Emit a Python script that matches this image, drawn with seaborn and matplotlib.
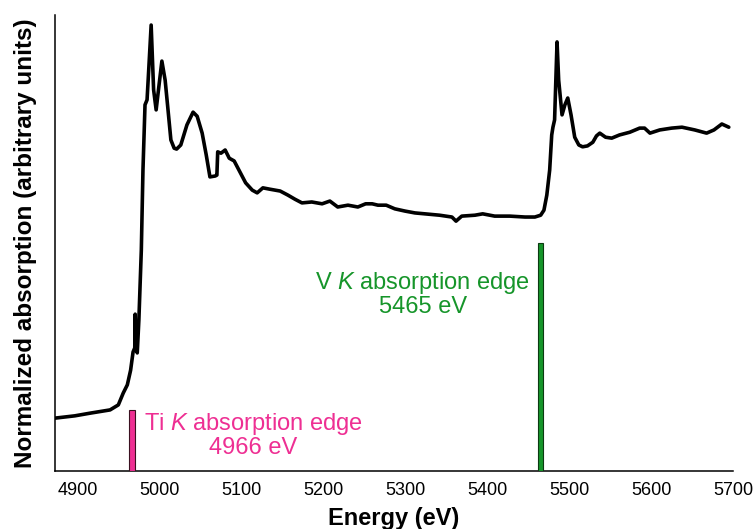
import matplotlib
matplotlib.use("Agg")
import matplotlib.pyplot as plt
import seaborn as sns
import pandas as pd

# spettro di assorbimento
energy = [4872, 4896.1, 4915.2, 4939.2, 4949.3, 4955.3, 4960.3, 4964.3, 4967.3, 4969.4, 4969.9, 4970.4,
          4972.4, 4974.4, 4977.4, 4979.4, 4981.9, 4984.4, 4986.4, 4989.4, 4992.4, 4995.5, 4999.0, 5002.5,
          5006.5, 5010.0, 5013.5, 5017.5, 5020.5, 5025.6, 5033.1, 5040.6, 5045.6, 5051.7, 5056.7, 5061.2,
          5067.7, 5069.7, 5070.7, 5074.7, 5079.8, 5084.8, 5090.8, 5097.8, 5104.8, 5112.9, 5118.9, 5125.9,
          5134.5, 5147.0, 5156.5, 5165.1, 5173.6, 5185.6, 5198.2, 5207.7, 5217.3, 5229.8, 5241.9,
          5251.4, 5259.4, 5266.4, 5276.5, 5287.0, 5299.6, 5311.6, 5323.7, 5341.7, 5356.8, 5361.8, 5368.8,
          5384.9, 5394.4, 5409.0, 5427.5, 5446.1, 5458.1, 5465.2, 5469.2, 5472.7, 5476.2, 5478.7,
          5480.2, 5482.2, 5485.2, 5487.2, 5491.3, 5494.8, 5498.3, 5502.3, 5506.8, 5511.8, 5516.4, 5522.4,
          5528.9, 5533.4, 5537.4, 5544.5, 5552.0, 5561.5, 5574.1, 5586.1, 5592.1, 5598.7, 5610.7,
          5625.2, 5637.8, 5653.4, 5667.9, 5676.9, 5686.5, 5695.0]
absorption = [0.116, 0.121, 0.127, 0.134, 0.145, 0.171, 0.189, 0.221, 0.261, 0.270, 0.344, 0.276,
              0.259, 0.331, 0.485, 0.660, 0.803, 0.814, 0.879, 0.978, 0.836, 0.792, 0.846, 0.899,
              0.857, 0.792, 0.726, 0.708, 0.706, 0.715, 0.759, 0.787, 0.778, 0.741, 0.693, 0.645,
              0.647, 0.649, 0.700, 0.697, 0.704, 0.686, 0.680, 0.656, 0.632, 0.616, 0.610, 0.621,
              0.618, 0.614, 0.605, 0.596, 0.588, 0.590, 0.586, 0.592, 0.579, 0.583, 0.579,
              0.586, 0.586, 0.583, 0.583, 0.575, 0.570, 0.566, 0.564, 0.561, 0.557, 0.548, 0.559,
              0.561, 0.564, 0.559, 0.559, 0.557, 0.557, 0.561, 0.572, 0.605, 0.660, 0.737,
              0.754, 0.770, 0.941, 0.857, 0.781, 0.803, 0.818, 0.781, 0.732, 0.715, 0.711, 0.713,
              0.721, 0.735, 0.741, 0.732, 0.730, 0.737, 0.743, 0.752, 0.752, 0.741, 0.748,
              0.752, 0.754, 0.748, 0.741, 0.748, 0.761, 0.754]

# soglie di assorbimento K
edge_energy = [4966, 5465]
edge_height = [0.134, 0.50]
edge_color = ["#ee2f93", "#16952a"]
edge_edgecolor = ["#3a1020", "#0c3a12"]
edge_label = [r"Ti $\mathit{K}$ absorption edge" + "\n4966 eV",
              r"V $\mathit{K}$ absorption edge" + "\n5465 eV"]

xticks = [4900, 5000, 5100, 5200, 5300, 5400, 5500, 5600, 5700]

sns.set_style("white")
plt.rcParams['font.family'] = ['Liberation Sans', 'DejaVu Sans']
plt.rcParams['mathtext.fontset'] = 'custom'
plt.rcParams['mathtext.it'] = 'Liberation Sans:italic'
plt.rcParams['mathtext.rm'] = 'Liberation Sans'

fig = plt.figure(figsize=(7.54, 5.29), dpi=100)
ax = fig.add_axes([0.073, 0.1096, 0.899, 0.862])

df = pd.DataFrame({"Energy": energy, "Absorption": absorption})
sns.lineplot(data=df, x="Energy", y="Absorption", ax=ax, color="black", linewidth=2.6)

ax.bar(edge_energy, edge_height, width=7, color=edge_color,
       edgecolor=edge_edgecolor, linewidth=0.8, align="center", zorder=3)

# etichette delle soglie
ax.text(5114, 0.079, edge_label[0], color=edge_color[0], fontsize=17,
        ha="center", va="center", linespacing=1.0)
ax.text(5321, 0.388, edge_label[1], color=edge_color[1], fontsize=17,
        ha="center", va="center", linespacing=1.0)

ax.set_xlim(4872, 5700)
ax.set_ylim(0, 1)
ax.set_xticks(xticks)
ax.set_yticks([])
ax.tick_params(axis="x", direction="in", length=6, width=1, labelsize=13, pad=8,
               colors="black")
for s in ["top", "right"]:
    ax.spines[s].set_visible(False)
for s in ["left", "bottom"]:
    ax.spines[s].set_color("black")
    ax.spines[s].set_linewidth(1.1)

ax.set_xlabel("Energy (eV)", fontsize=17, fontweight="bold", color="black", labelpad=6)
ax.set_ylabel("Normalized absorption (arbitrary units)", fontsize=17.5, fontweight="bold",
              color="black", labelpad=13)

plt.savefig("out.png", dpi=100)
plt.close()
